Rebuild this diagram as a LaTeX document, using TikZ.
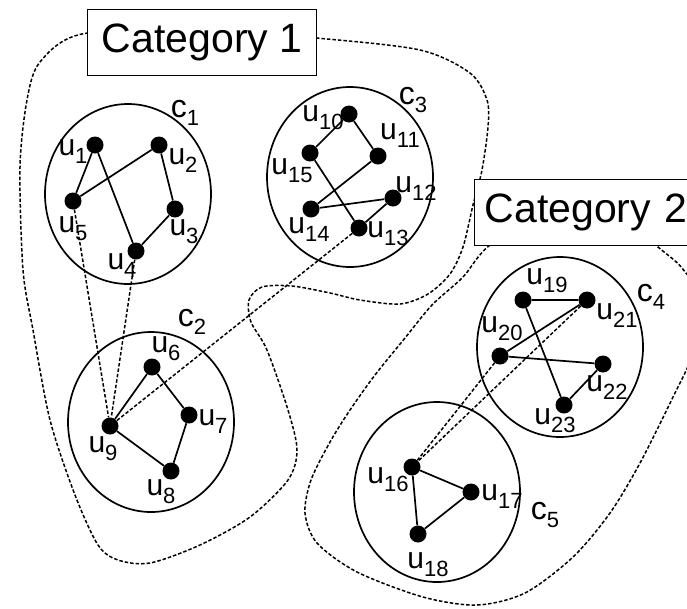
\documentclass[tikz,border=0pt]{standalone}
\usepackage{fontspec}
\setmainfont{Liberation Sans}
\usetikzlibrary{shapes.geometric}
\newcommand\ulab[2]{#1\raisebox{-8pt}{\fontsize{22}{22}\selectfont #2}}
\begin{document}
\begin{tikzpicture}[x=1pt,y=-1pt,
  dot/.style={circle,fill=black,inner sep=0,minimum size=17},
  clus/.style={ellipse,draw,line width=1.7,minimum width=166,minimum height=180,inner sep=0},
  lab/.style={font=\fontsize{30}{30}\selectfont,inner sep=0},
  clab/.style={font=\fontsize{32}{32}\selectfont,inner sep=0},
  ln/.style={line width=1.7},
  dlink/.style={line width=1.5,dash pattern=on 3.5pt off 2pt},
  blob/.style={line width=1.5,dash pattern=on 3.5pt off 2pt},
  catbox/.style={draw,fill=white,line width=1.3,font=\fontsize{41}{41}\selectfont,minimum height=66,anchor=north west,inner xsep=10}]
\useasboundingbox (0,0) rectangle (687,608);
% category outlines
\draw[blob] plot[smooth cycle] coordinates {(200,30) (316,38) (420,50) (470,73) (487,100) (488,127) (482,170) (473,205) (463,247) (450,274) (428,294) (400,304) (360,300) (330,293) (292,286) (262,287) (249,300) (251,322) (267,350) (288,410) (297,450) (288,480) (250,517) (200,545) (150,563) (118,560) (98,545) (75,495) (50,420) (33,330) (23,270) (20,167) (27,100) (40,62) (82,34)};
\draw[blob] plot[smooth cycle] coordinates {(560,200) (490,245) (463,277) (432,305) (405,338) (375,375) (350,410) (330,442) (311,480) (305,513) (317,543) (357,572) (423,597) (477,605) (525,593) (573,557) (610,513) (640,463) (673,397) (692,355) (700,300) (682,268) (658,247) (620,215)};
\node[catbox,minimum width=229] (cat1) at (87,9) {Category 1};
\node[catbox,minimum width=240,text width=220] (cat2) at (474,179) {Category 2};
% clusters
\node[clus] (c1) at (128,194) {};
\node[clus] (c2) at (151,422) {};
\node[clus] (c3) at (350,177) {};
\node[clus] (c4) at (560,347) {};
\node[clus] (c5) at (437,492) {};
\node[clab] (lc1) at (185,113) {\ulab{c}{1}};
\node[clab] (lc2) at (192,322) {\ulab{c}{2}};
\node[clab] (lc3) at (413,100) {\ulab{c}{3}};
\node[clab] (lc4) at (651,297) {\ulab{c}{4}};
\node[clab] (lc5) at (545,515) {\ulab{c}{5}};
% users
\node[dot] (u1) at (95,145) {};
\node[dot] (u2) at (159,145) {};
\node[dot] (u3) at (175,209) {};
\node[dot] (u4) at (136,251) {};
\node[dot] (u5) at (73,201) {};
\node[dot] (u6) at (152,367) {};
\node[dot] (u7) at (189,415) {};
\node[dot] (u8) at (171,471) {};
\node[dot] (u9) at (110,426) {};
\node[dot] (u10) at (349,114) {};
\node[dot] (u11) at (378,156) {};
\node[dot] (u12) at (393,198) {};
\node[dot] (u13) at (359,228) {};
\node[dot] (u14) at (311,209) {};
\node[dot] (u15) at (310,153) {};
\node[dot] (u16) at (412,467) {};
\node[dot] (u17) at (471,492) {};
\node[dot] (u18) at (418,534) {};
\node[dot] (u19) at (523,300) {};
\node[dot] (u20) at (500,356) {};
\node[dot] (u21) at (587,300) {};
\node[dot] (u22) at (603,364) {};
\node[dot] (u23) at (564,405) {};
% labels
\node[lab] (l1) at (73,152) {\ulab{u}{1}};
\node[lab] (l2) at (183,161) {\ulab{u}{2}};
\node[lab] (l3) at (184,232) {\ulab{u}{3}};
\node[lab] (l4) at (122,266) {\ulab{u}{4}};
\node[lab] (l5) at (73,229) {\ulab{u}{5}};
\node[lab] (l6) at (166,349) {\ulab{u}{6}};
\node[lab] (l7) at (213,422) {\ulab{u}{7}};
\node[lab] (l8) at (161,492) {\ulab{u}{8}};
\node[lab] (l9) at (103,449) {\ulab{u}{9}};
\node[lab] (l10) at (323,118) {\ulab{u}{10}};
\node[lab] (l11) at (400,136) {\ulab{u}{11}};
\node[lab] (l12) at (416,189) {\ulab{u}{12}};
\node[lab] (l13) at (388,234) {\ulab{u}{13}};
\node[lab] (l14) at (309,230) {\ulab{u}{14}};
\node[lab] (l15) at (292,171) {\ulab{u}{15}};
\node[lab] (l16) at (388,480) {\ulab{u}{16}};
\node[lab] (l17) at (502,497) {\ulab{u}{17}};
\node[lab] (l18) at (428,565) {\ulab{u}{18}};
\node[lab] (l19) at (547,281) {\ulab{u}{19}};
\node[lab] (l20) at (502,329) {\ulab{u}{20}};
\node[lab] (l21) at (617,316) {\ulab{u}{21}};
\node[lab] (l22) at (607,388) {\ulab{u}{22}};
\node[lab] (l23) at (555,421) {\ulab{u}{23}};
% edges
\draw[ln] (u1) -- (u5) (u1) -- (u4) (u2) -- (u5) (u2) -- (u3) (u3) -- (u4);
\draw[ln] (u6) -- (u9) (u6) -- (u7) (u7) -- (u8) (u8) -- (u9);
\draw[ln] (u10) -- (u15) (u10) -- (u11) (u11) -- (u14) (u15) -- (u13) (u14) -- (u12) (u12) -- (u13);
\draw[ln] (u19) -- (u21) (u19) -- (u23) (u20) -- (u21) (u20) -- (u22) (u22) -- (u23);
\draw[ln] (u16) -- (u17) (u16) -- (u18) (u17) -- (u18);
% links
\draw[dlink] (u5) -- (u9);
\draw[dlink] (u4) -- (u9);
\draw[dlink] (u13) -- (u9);
\draw[dlink] (u20) -- (u16);
\draw[dlink] (u21) -- (u16);
\end{tikzpicture}
\end{document}
